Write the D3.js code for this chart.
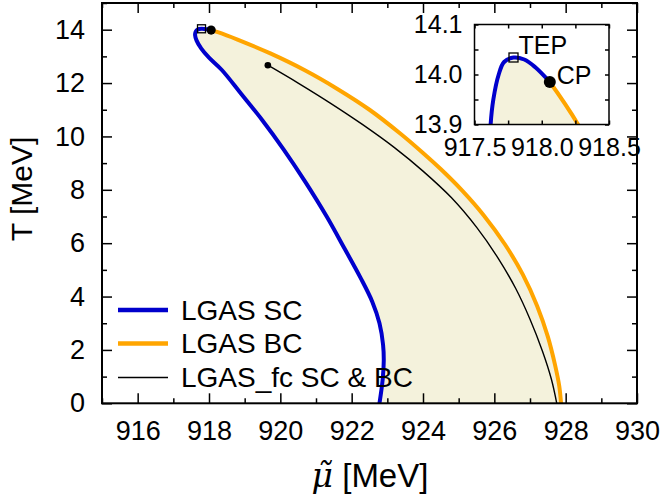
<!DOCTYPE html>
<html><head><meta charset="utf-8">
<script src="https://cdn.jsdelivr.net/npm/d3@7"></script>
<style>body{margin:0;background:#fff} text{font-family:"Liberation Sans",Arial,Helvetica,sans-serif;fill:#000}</style>
</head><body><svg id="c" width="660" height="496"></svg>
<script>
// ---- data ----
const scMu = [918.06, 917.95, 917.87, 917.79, 917.72, 917.68, 917.64, 917.62, 917.61, 917.65, 917.78, 918.0, 918.36, 918.9, 919.5, 920.1, 920.7, 921.3, 921.8, 922.25, 922.58, 922.78, 922.88, 922.9, 922.87, 922.78];
const scT  = [13.985, 14.015, 14.03, 14.034, 14.025, 14.0, 13.95, 13.9, 13.8, 13.6, 13.3, 12.95, 12.49, 11.6, 10.6, 9.5, 8.3, 7.0, 5.8, 4.7, 3.8, 3.0, 2.2, 1.6, 0.9, 0.0];
const bcMu = [918.06, 918.27, 918.8, 919.72, 920.7, 921.6, 922.5, 923.37, 924.0, 924.51, 925.1, 925.7, 926.3, 926.8, 927.2, 927.5, 927.7, 927.82, 927.87];
const bcT  = [13.985, 13.9, 13.63, 13.11, 12.47, 11.78, 11.0, 10.1, 9.38, 8.76, 7.97, 7.05, 5.95, 4.82, 3.65, 2.5, 1.45, 0.65, 0.0];
const fcMu = [919.65, 920.5, 921.4, 922.3, 923.2, 924.0, 924.8, 925.5, 926.1, 926.6, 927.0, 927.35, 927.6, 927.75];
const fcT  = [12.67, 12.0, 11.25, 10.45, 9.58, 8.7, 7.7, 6.6, 5.45, 4.3, 3.15, 1.95, 0.9, 0.0];
const tepPoint = [917.79, 14.034];
const cpPoint = [918.06, 13.985];
const xTicks = [916, 918, 920, 922, 924, 926, 928, 930];
const yTicks = [0, 2, 4, 6, 8, 10, 12, 14];
const insetXTicks = [917.5, 918.0, 918.5];
const insetYTicks = [13.9, 14.0, 14.1];
const legendLabels = ["LGAS SC", "LGAS BC", "LGAS_fc SC & BC"];
const colors = {sc: "#0000cc", bc: "#ffa500", fc: "#000000", fill: "#f4f2dc"};

// ---- drawing ----
const svg = d3.select("#c");
const M = {l:102, r:637, t:3, b:403.3};
const x = d3.scaleLinear().domain([915, 930]).range([M.l, M.r]);
const y = d3.scaleLinear().domain([0, 15]).range([M.b, M.t]);

const pts = (mu, T) => mu.map((m, i) => [m, T[i]]);
const sc = pts(scMu, scT), bc = pts(bcMu, bcT), fc = pts(fcMu, fcT);

const defs = svg.append("defs");
defs.append("clipPath").attr("id", "clipMain").append("rect")
  .attr("x", M.l).attr("y", M.t).attr("width", M.r - M.l).attr("height", M.b - M.t);

function drawCurves(g, xs, ys, lw, thin) {
  const line = d3.line().x(d => xs(d[0])).y(d => ys(d[1])).curve(d3.curveCatmullRom.alpha(0.5));
  const bcRev = bc.slice().reverse();
  const fillPath = line(sc) + line(bcRev).replace(/^M/, "L") + "Z";
  g.append("path").attr("d", fillPath).attr("fill", colors.fill).attr("stroke", "none");
  if (thin) g.append("path").attr("d", line(fc)).attr("fill", "none").attr("stroke", colors.fc).attr("stroke-width", 1.4);
  g.append("path").attr("d", line(sc)).attr("fill", "none").attr("stroke", colors.sc).attr("stroke-width", lw);
  g.append("path").attr("d", line(bc)).attr("fill", "none").attr("stroke", colors.bc).attr("stroke-width", lw);
}

const gm = svg.append("g").attr("clip-path", "url(#clipMain)");
drawCurves(gm, x, y, 4, true);
gm.append("circle").attr("cx", x(fc[0][0])).attr("cy", y(fc[0][1])).attr("r", 3.3).attr("fill", "#000");
gm.append("rect").attr("x", x(tepPoint[0]) - 4).attr("y", y(tepPoint[1]) - 4).attr("width", 8).attr("height", 8)
  .attr("fill", "none").attr("stroke", "#000").attr("stroke-width", 1.3);
gm.append("circle").attr("cx", x(cpPoint[0])).attr("cy", y(cpPoint[1])).attr("r", 4.6).attr("fill", "#000");

// axes main
const fs = 27;
function styleAxis(g) { g.select(".domain").remove(); g.selectAll("line").attr("stroke", "#000").attr("stroke-width", 1.5); }
const xMinor = d3.range(915, 931, 1).filter(v => !xTicks.includes(v));
const yMinor = d3.range(1, 16, 2);
svg.append("g").attr("transform", `translate(0,${M.b})`)
  .call(d3.axisBottom(x).tickValues(xTicks).tickSize(-10).tickPadding(18).tickFormat(d3.format("d")))
  .call(styleAxis).call(g => g.selectAll("text").attr("font-size", fs));
svg.append("g").attr("transform", `translate(0,${M.b})`)
  .call(d3.axisBottom(x).tickValues(xMinor).tickSize(-5).tickFormat("")).call(styleAxis);
svg.append("g").attr("transform", `translate(0,${M.t})`)
  .call(d3.axisTop(x).tickValues(xTicks).tickSize(-10).tickFormat("")).call(styleAxis);
svg.append("g").attr("transform", `translate(0,${M.t})`)
  .call(d3.axisTop(x).tickValues(xMinor).tickSize(-5).tickFormat("")).call(styleAxis);
svg.append("g").attr("transform", `translate(${M.l},0)`)
  .call(d3.axisLeft(y).tickValues(yTicks).tickSize(-10).tickPadding(17).tickFormat(d3.format("d")))
  .call(styleAxis).call(g => g.selectAll("text").attr("font-size", fs));
svg.append("g").attr("transform", `translate(${M.l},0)`)
  .call(d3.axisLeft(y).tickValues(yMinor).tickSize(-5).tickFormat("")).call(styleAxis);
svg.append("g").attr("transform", `translate(${M.r},0)`)
  .call(d3.axisRight(y).tickValues(yTicks).tickSize(-10).tickFormat("")).call(styleAxis);
svg.append("g").attr("transform", `translate(${M.r},0)`)
  .call(d3.axisRight(y).tickValues(yMinor).tickSize(-5).tickFormat("")).call(styleAxis);
svg.append("rect").attr("x", M.l).attr("y", M.t).attr("width", M.r - M.l).attr("height", M.b - M.t)
  .attr("fill", "none").attr("stroke", "#000").attr("stroke-width", 2);

// axis titles
svg.append("text").attr("transform", "translate(32,189) rotate(-90)").attr("text-anchor", "middle")
  .attr("font-size", 30).text("T [MeV]");
const xt = svg.append("text").attr("x", 370).attr("y", 487).attr("text-anchor", "middle").attr("font-size", 33);
xt.append("tspan").attr("font-style", "italic").attr("font-family", "DejaVu Serif, serif").text("\u03bc\u0303");
xt.append("tspan").text(" [MeV]");

// legend
const legY = [310, 343.5, 377.5];
const legStyles = [[colors.sc, 4.5], [colors.bc, 4.5], [colors.fc, 1.4]];
legendLabels.forEach((lab, i) => {
  svg.append("line").attr("x1", 118).attr("x2", 168).attr("y1", legY[i]).attr("y2", legY[i])
    .attr("stroke", legStyles[i][0]).attr("stroke-width", legStyles[i][1]);
  svg.append("text").attr("x", 181).attr("y", legY[i] + 9.8).attr("font-size", 28).text(lab);
});

// ---- inset ----
const I = {l:474.5, r:609, t:24.5, b:124.5};
const xi = d3.scaleLinear().domain([917.5, 918.5]).range([I.l, I.r]);
const yi = d3.scaleLinear().domain([13.9, 14.1]).range([I.b, I.t]);
defs.append("clipPath").attr("id", "clipIn").append("rect")
  .attr("x", I.l).attr("y", I.t).attr("width", I.r - I.l).attr("height", I.b - I.t);
svg.append("rect").attr("x", I.l).attr("y", I.t).attr("width", I.r - I.l).attr("height", I.b - I.t).attr("fill", "#fff");
const gi = svg.append("g").attr("clip-path", "url(#clipIn)");
drawCurves(gi, xi, yi, 4, false);
gi.append("rect").attr("x", xi(tepPoint[0]) - 4.5).attr("y", yi(tepPoint[1]) - 4.5).attr("width", 9).attr("height", 9)
  .attr("fill", "none").attr("stroke", "#000").attr("stroke-width", 1.3);
gi.append("circle").attr("cx", xi(cpPoint[0])).attr("cy", yi(cpPoint[1])).attr("r", 6).attr("fill", "#000");
const ifs = 25;
const ixAll = d3.range(0, 5).map(i => 917.5 + i * 0.25);
const iyAll = d3.range(0, 5).map(i => 13.9 + i * 0.05);
svg.append("g").attr("transform", `translate(0,${I.b})`)
  .call(d3.axisBottom(xi).tickValues(ixAll).tickSize(-4).tickFormat("")).call(styleAxis);
svg.append("g").attr("transform", `translate(0,${I.b})`)
  .call(d3.axisBottom(xi).tickValues(insetXTicks).tickSize(0).tickPadding(14).tickFormat(d3.format(".1f")))
  .call(styleAxis).call(g => g.selectAll("text").attr("font-size", ifs));
svg.append("g").attr("transform", `translate(0,${I.t})`)
  .call(d3.axisTop(xi).tickValues(ixAll).tickSize(-4).tickFormat("")).call(styleAxis);
svg.append("g").attr("transform", `translate(${I.l},0)`)
  .call(d3.axisLeft(yi).tickValues(iyAll).tickSize(-4).tickFormat("")).call(styleAxis);
svg.append("g").attr("transform", `translate(${I.l},0)`)
  .call(d3.axisLeft(yi).tickValues(insetYTicks).tickSize(0).tickPadding(12).tickFormat(d3.format(".1f")))
  .call(styleAxis).call(g => g.selectAll("text").attr("font-size", ifs));
svg.append("g").attr("transform", `translate(${I.r},0)`)
  .call(d3.axisRight(yi).tickValues(iyAll).tickSize(-4).tickFormat("")).call(styleAxis);
svg.append("rect").attr("x", I.l).attr("y", I.t).attr("width", I.r - I.l).attr("height", I.b - I.t)
  .attr("fill", "none").attr("stroke", "#000").attr("stroke-width", 1.5);
svg.append("text").attr("x", xi(tepPoint[0]) + 5).attr("y", yi(tepPoint[1]) - 4).attr("font-size", ifs).text("TEP");
svg.append("text").attr("x", xi(cpPoint[0]) + 7).attr("y", yi(cpPoint[1]) + 2).attr("font-size", ifs).text("CP");
</script></body></html>
